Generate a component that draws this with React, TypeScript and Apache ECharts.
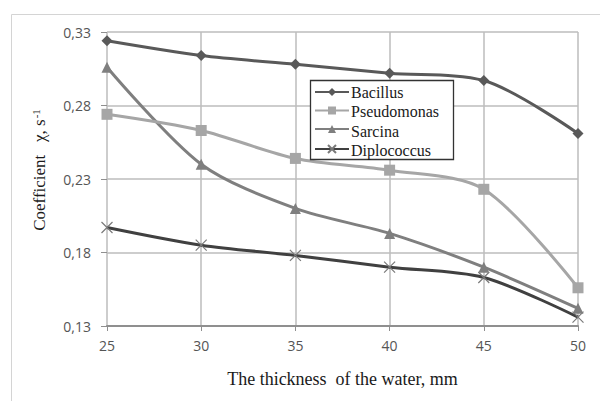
import React, { useEffect, useRef } from "react";
import * as echarts from "echarts";

const X_VALUES = [25, 30, 35, 40, 45, 50];
const BACILLUS = [0.324, 0.314, 0.308, 0.302, 0.297, 0.261];
const PSEUDOMONAS = [0.274, 0.263, 0.244, 0.236, 0.223, 0.156];
const SARCINA = [0.306, 0.24, 0.21, 0.193, 0.17, 0.142];
const DIPLOCOCCUS = [0.197, 0.185, 0.178, 0.17, 0.163, 0.136];
const Y_TICKS = [0.13, 0.18, 0.23, 0.28, 0.33];
const X_TICKS = [25, 30, 35, 40, 45, 50];
const LEGEND_NAMES = ["Bacillus", "Pseudomonas", "Sarcina", "Diplococcus"];

const X_SYMBOL = "path://M0,0 L10,10 M10,0 L0,10";

export default function App() {
  const ref = useRef<HTMLDivElement>(null);
  useEffect(() => {
    if (!ref.current) return;
    const chart = echarts.init(ref.current, undefined, { renderer: "svg" });
    const pair = (ys: number[]) => X_VALUES.map((x, i) => [x, ys[i]]);
    const serif = "Liberation Serif";
    const mk = (name: string, ys: number[], color: string, symbol: string, size: number, extra: any = {}) => ({
      name,
      type: "line",
      data: pair(ys),
      smooth: 0.3,
      symbol,
      symbolSize: size,
      lineStyle: { color, width: 3 },
      itemStyle: { color },
      ...extra,
    });
    const legendTop = 87;
    const legendStep = 19.5;
    chart.setOption({
      animation: false,
      backgroundColor: "#ffffff",
      textStyle: { fontFamily: serif },
      graphic: [
        {
          type: "rect",
          shape: { x: 11.5, y: 14.5, width: 620, height: 420 },
          style: { fill: "none", stroke: "#d4d4d4", lineWidth: 1 },
          z: -1,
        },
        {
          type: "rect",
          shape: { x: 310.5, y: 80.5, width: 143, height: 79 },
          style: { fill: "#ffffff", stroke: "#333333", lineWidth: 1.3 },
          z: 5,
        },
        ...LEGEND_NAMES.map((n, i) => ({
          type: "text",
          x: 351,
          y: legendTop + 5 + i * legendStep,
          z: 20,
          style: {
            text: n,
            fontFamily: serif,
            fontSize: 16,
            fill: "#1a1a1a",
            textVerticalAlign: "middle",
            verticalAlign: "middle",
          },
        })),
      ],
      legend: {
        orient: "vertical",
        left: 314,
        top: legendTop,
        z: 10,
        itemWidth: 34,
        itemHeight: 10,
        itemGap: legendStep - 10,
        padding: 0,
        formatter: () => "",
        data: LEGEND_NAMES,
      },
      grid: { left: 107, top: 32, right: 22, bottom: 75 },
      xAxis: {
        type: "value",
        min: 25,
        max: 50,
        interval: 5,
        name: "The thickness  of the water, mm",
        nameLocation: "middle",
        nameGap: 44,
        nameTextStyle: { fontFamily: serif, fontSize: 18, color: "#1a1a1a" },
        axisLine: { show: true, lineStyle: { color: "#8f8f8f", width: 2 } },
        axisTick: { show: true, length: 5, lineStyle: { color: "#8f8f8f" }, customValues: X_TICKS },
        axisLabel: {
          margin: 12,
          fontFamily: "Open Sans",
          fontSize: 14,
          color: "#555555",
          customValues: X_TICKS,
        },
        splitLine: { show: true, lineStyle: { color: "#bdbdbd", width: 1.5 } },
      },
      yAxis: {
        type: "value",
        min: 0.13,
        max: 0.33,
        name: "Coefficient   χ, s{sup|-1}",
        nameLocation: "middle",
        nameGap: 58,
        nameTextStyle: {
          fontFamily: serif,
          fontSize: 17,
          color: "#1a1a1a",
          padding: [0, 0, 0, 18],
          rich: { sup: { fontFamily: serif, fontSize: 11, verticalAlign: "top", padding: [0, 0, 8, 1], color: "#1a1a1a" } },
        },
        axisLine: { show: false },
        axisTick: { show: true, length: 6, lineStyle: { color: "#8f8f8f" }, customValues: Y_TICKS },
        axisLabel: {
          margin: 16,
          fontFamily: "Open Sans",
          fontSize: 14,
          color: "#555555",
          customValues: Y_TICKS,
          formatter: (v: number) => v.toFixed(2).replace(".", ","),
        },
        splitLine: { show: true, lineStyle: { color: "#bdbdbd", width: 1.5 } },
      },
      series: [
        mk("Diplococcus", DIPLOCOCCUS, "#404040", X_SYMBOL, 11, {
          itemStyle: { color: "none", borderColor: "#7a7a7a", borderWidth: 1.2 },
        }),
        mk("Sarcina", SARCINA, "#7f7f7f", "triangle", 11),
        mk("Pseudomonas", PSEUDOMONAS, "#a6a6a6", "rect", 11),
        mk("Bacillus", BACILLUS, "#595959", "diamond", 11),
      ],
    });
    return () => chart.dispose();
  }, []);
  return (
    <div
      ref={ref}
      style={{ position: "absolute", left: 0, top: 0, width: 600, height: 401 }}
    />
  );
}
